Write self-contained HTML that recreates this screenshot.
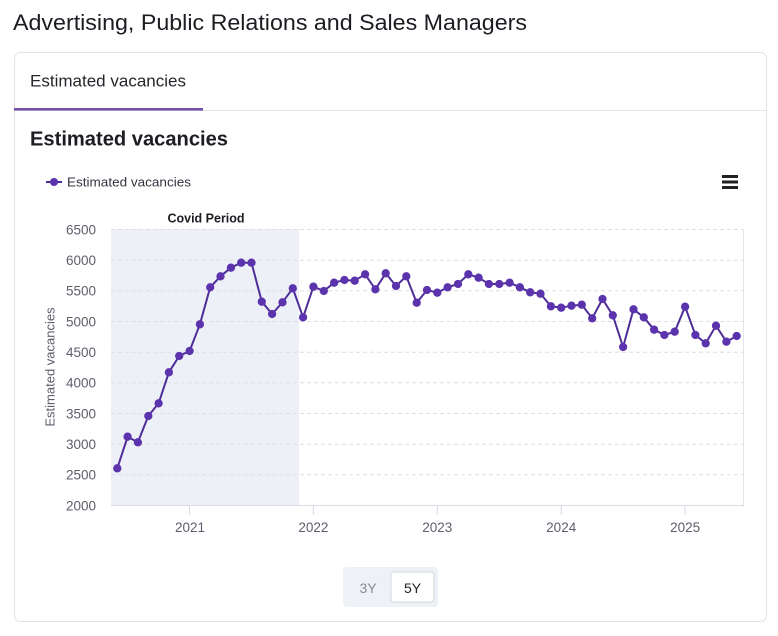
<!DOCTYPE html>
<html>
<head>
<meta charset="utf-8">
<style>
  html,body{margin:0;padding:0;background:#fff;}
  body{width:778px;height:636px;overflow:hidden;}
  svg{display:block;font-family:"Liberation Sans",Arial,sans-serif;}
</style>
</head>
<body>
<svg width="778" height="636" viewBox="0 0 778 636" xmlns="http://www.w3.org/2000/svg">
  <defs>
    <marker id="dot" viewBox="0 0 10 10" refX="5" refY="5" markerWidth="9" markerHeight="9" markerUnits="userSpaceOnUse">
      <circle cx="5" cy="5" r="4.6" fill="#5b33ad"/>
    </marker>
  </defs>

  <!-- Page title -->
  <text x="13" y="30" font-size="22.5" fill="#1c1c22" textLength="514" lengthAdjust="spacingAndGlyphs">Advertising, Public Relations and Sales Managers</text>

  <!-- Card -->
  <rect x="14.5" y="52.5" width="752" height="569" rx="6" ry="6" fill="#fff" stroke="#e2e2e6" stroke-width="1"/>
  <line x1="15" y1="110.5" x2="766" y2="110.5" stroke="#e4e4e8" stroke-width="1"/>
  <rect x="14" y="108" width="189" height="2.6" fill="#7450a8"/>
  <text x="30" y="86.7" font-size="17" fill="#26262c" textLength="156" lengthAdjust="spacingAndGlyphs">Estimated vacancies</text>

  <!-- Chart heading -->
  <text x="30" y="145.7" font-size="20" font-weight="bold" fill="#1c1c22" textLength="198" lengthAdjust="spacingAndGlyphs">Estimated vacancies</text>

  <!-- Legend -->
  <line x1="46" y1="182" x2="62" y2="182" stroke="#4f2d99" stroke-width="2"/>
  <circle cx="54" cy="182" r="4" fill="#5b33ad"/>
  <text x="67" y="186.7" font-size="13" fill="#333340" textLength="124" lengthAdjust="spacingAndGlyphs">Estimated vacancies</text>

  <!-- Hamburger -->
  <rect x="722" y="175" width="16" height="3" fill="#222"/>
  <rect x="722" y="180.5" width="16" height="3" fill="#222"/>
  <rect x="722" y="186" width="16" height="3" fill="#222"/>

  <!-- Covid shading -->
  <rect x="111" y="229" width="188" height="276" fill="#eef0f8"/>
  <text x="206" y="222.5" font-size="12.5" font-weight="bold" fill="#1c1c22" text-anchor="middle">Covid Period</text>

  <!-- Gridlines -->
  <g stroke="#dedee4" stroke-width="1" stroke-dasharray="4 3">
    <line x1="111" y1="229.5" x2="743" y2="229.5"/>
    <line x1="111" y1="260.2" x2="743" y2="260.2"/>
    <line x1="111" y1="290.8" x2="743" y2="290.8"/>
    <line x1="111" y1="321.5" x2="743" y2="321.5"/>
    <line x1="111" y1="352.2" x2="743" y2="352.2"/>
    <line x1="111" y1="382.8" x2="743" y2="382.8"/>
    <line x1="111" y1="413.5" x2="743" y2="413.5"/>
    <line x1="111" y1="444.2" x2="743" y2="444.2"/>
    <line x1="111" y1="474.8" x2="743" y2="474.8"/>
  </g>
  <line x1="743.5" y1="229" x2="743.5" y2="505" stroke="#e4e4e8" stroke-width="1"/>
  <line x1="111" y1="505.5" x2="744" y2="505.5" stroke="#d8dae4" stroke-width="1"/>

  <!-- X ticks -->
  <g stroke="#d8dae4" stroke-width="1">
    <line x1="189.6" y1="505" x2="189.6" y2="515"/>
    <line x1="313.4" y1="505" x2="313.4" y2="515"/>
    <line x1="437.3" y1="505" x2="437.3" y2="515"/>
    <line x1="561.2" y1="505" x2="561.2" y2="515"/>
    <line x1="685.1" y1="505" x2="685.1" y2="515"/>
  </g>
  <g font-size="13.5" fill="#5e5e6c" text-anchor="middle">
    <text x="190" y="532">2021</text>
    <text x="313.4" y="532">2022</text>
    <text x="437.3" y="532">2023</text>
    <text x="561.2" y="532">2024</text>
    <text x="685.1" y="532">2025</text>
  </g>

  <!-- Y labels -->
  <g font-size="13.5" fill="#5e5e6c" text-anchor="end">
    <text x="96" y="234.3">6500</text>
    <text x="96" y="265">6000</text>
    <text x="96" y="295.6">5500</text>
    <text x="96" y="326.3">5000</text>
    <text x="96" y="357">4500</text>
    <text x="96" y="387.6">4000</text>
    <text x="96" y="418.3">3500</text>
    <text x="96" y="449">3000</text>
    <text x="96" y="479.6">2500</text>
    <text x="96" y="510.3">2000</text>
  </g>
  <text transform="translate(54.5,367) rotate(-90)" font-size="13" fill="#5e5e6c" text-anchor="middle">Estimated vacancies</text>

  <!-- Series -->
  <polyline fill="none" stroke="#4f2d99" stroke-width="2" stroke-linejoin="round"
    marker-start="url(#dot)" marker-mid="url(#dot)" marker-end="url(#dot)"
    points="117.3,468.3 127.6,436.7 137.9,442.3 148.3,416.0 158.6,403.3 168.9,372.3 179.2,356.0 189.6,351.0 199.9,324.3 210.2,287.3 220.5,276.3 230.9,267.7 241.2,262.7 251.5,262.7 261.8,301.7 272.1,314.0 282.5,302.3 292.8,288.3 303.1,317.3 313.4,286.7 323.8,291.0 334.1,282.7 344.4,280.0 354.7,280.7 365.1,274.3 375.4,289.3 385.7,273.3 396.0,286.0 406.3,276.3 416.7,302.7 427.0,290.0 437.3,292.7 447.6,287.3 458.0,284.0 468.3,274.3 478.6,277.7 488.9,284.0 499.3,284.0 509.6,282.7 519.9,287.3 530.2,292.3 540.5,293.7 550.9,306.3 561.2,307.7 571.5,305.7 581.8,304.7 592.2,318.3 602.5,299.0 612.8,315.3 623.1,347.0 633.5,309.3 643.8,317.3 654.1,329.7 664.4,335.0 674.7,331.7 685.1,306.7 695.4,335.0 705.7,343.3 716.0,325.7 726.4,341.7 736.7,336.0"/>

  <!-- Range buttons -->
  <rect x="343" y="567" width="95" height="40" rx="4" fill="#eef1f6"/>
  <rect x="391" y="572" width="43" height="30" rx="3" fill="#fff" stroke="#d6d8de" stroke-width="1"/>
  <text x="368" y="593" font-size="14" fill="#8a8a96" text-anchor="middle">3Y</text>
  <text x="412.5" y="593" font-size="14" fill="#222228" text-anchor="middle">5Y</text>
</svg>
</body>
</html>
